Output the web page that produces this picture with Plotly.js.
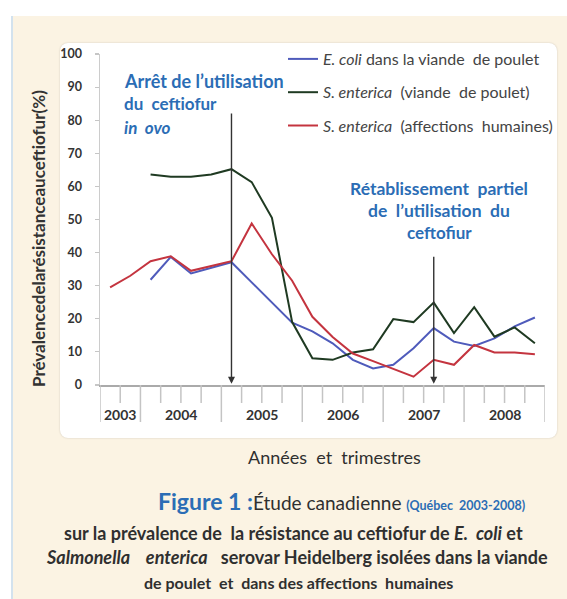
<!DOCTYPE html>
<html>
<head>
<meta charset="utf-8">
<script src="https://cdn.plot.ly/plotly-3.0.1.min.js"></script>
<style>
  body { margin:0; background:#ffffff; }
  #wrap { position:relative; width:567px; height:599px; overflow:hidden; }
  #beige { position:absolute; left:11px; top:16px; width:556px; height:583px; background:#FBF3E3; border-left:2px solid #d3e2ee; }
  #panel { position:absolute; left:60px; top:43px; width:497px; height:395px; background:#ffffff; border-radius:8px; box-shadow:0 0 2px rgba(0,0,0,0.18); }
  #plot { position:absolute; left:0; top:0; width:567px; height:599px; }
</style>
</head>
<body>
<div id="wrap">
  <div id="beige"></div>
  <div id="panel"></div>
  <div id="plot"></div>
</div>
<script>
// ---- data ----
const quarters = [
  "2003 T3","2003 T4",
  "2004 T1","2004 T2","2004 T3","2004 T4",
  "2005 T1","2005 T2","2005 T3","2005 T4",
  "2006 T1","2006 T2","2006 T3","2006 T4",
  "2007 T1","2007 T2","2007 T3","2007 T4",
  "2008 T1","2008 T2","2008 T3","2008 T4"
];
const ecoliPoulet = [null, null, 31.8, 38.7, 33.7, 35.5, 37.1, 31.0, 25.0, 18.8, 16.2, 12.6, 7.6, 5.0, 6.1, 11.1, 17.2, 13.1, 11.8, 14.1, 17.7, 20.4];
const entericaPoulet = [null, null, 63.6, 62.9, 62.9, 63.6, 65.2, 61.3, 50.5, 19.0, 8.1, 7.6, 9.8, 10.8, 19.9, 19.0, 24.9, 15.7, 23.5, 14.6, 17.4, 12.6];
const entericaHumains = [29.5, 33.0, 37.4, 38.9, 34.5, 35.9, 37.4, 48.8, 39.5, 31.5, 20.6, 14.5, 9.5, 7.2, 4.8, 2.5, 7.6, 6.1, 12.1, 9.8, 9.8, 9.3];
const seriesNames = [
  "<i>E. coli</i> dans la viande  de poulet",
  "<i>S. enterica</i>  (viande  de poulet)",
  "<i>S. enterica</i>  (affections  humaines)"
];
const seriesColors = ["#4F5BBB", "#1F3A22", "#C4343F"];
const arretQuarter = "2005 T1";
const retablissementQuarter = "2007 T3";

// ---- helpers (pixel -> paper) ----
const L = 100, R = 22, T = 54, B = 214, W = 567, H = 599;
const PW = W - L - R, PH = H - T - B;
const fx = px => (px - L) / PW;
const fy = py => (H - B - py) / PH;

const yearOf = q => q.split(" ")[0];

const traces = [ecoliPoulet, entericaPoulet, entericaHumains].map((vals, i) => ({
  type: "scatter", mode: "lines",
  x: quarters, y: vals,
  name: seriesNames[i],
  legendgroup: "g" + i,
  line: { color: seriesColors[i], width: 2 },
  connectgaps: false
}));

// tick lines below the axis (quarter boundaries; longer at year boundaries)
const shapes = [];
for (let b = 0; b <= quarters.length; b++) {
  const isYear = (b === 0 || b === quarters.length || yearOf(quarters[b]) !== yearOf(quarters[b - 1]));
  shapes.push({
    type: "line", xref: "x", yref: "paper",
    x0: b - 0.5, x1: b - 0.5, y0: 0, y1: -(isYear ? 37 : 18) / PH,
    line: { color: "#c4c4c4", width: 1.5 }
  });
}

// year labels at centre of their quarters
const years = [...new Set(quarters.map(yearOf))];
const annotations = years.map(yr => {
  const idx = quarters.map((q, i) => yearOf(q) === yr ? i : -1).filter(i => i >= 0);
  const c = (idx[0] + idx[idx.length - 1]) / 2;
  return {
    xref: "x", yref: "paper", x: c, y: fy(414), text: yr, showarrow: false,
    font: { family: "Lato, sans-serif", size: 14, color: "#333", weight: "bold" },
    xanchor: "center", yanchor: "middle"
  };
});

// arrows
const ia = quarters.indexOf(arretQuarter);
const ir = quarters.indexOf(retablissementQuarter);
annotations.push({
  xref: "x", yref: "y", axref: "x", ayref: "y",
  x: ia, y: 0.4, ax: ia, ay: 82.5, text: "", showarrow: true,
  arrowhead: 2, arrowsize: 1, arrowwidth: 1.4, arrowcolor: "#333"
});
annotations.push({
  xref: "x", yref: "y", axref: "x", ayref: "y",
  x: ir, y: 0.4, ax: ir, ay: 39.2, text: "", showarrow: true,
  arrowhead: 2, arrowsize: 1, arrowwidth: 1.4, arrowcolor: "#333"
});

const blue = "#2B6DB5";
const noteFont = s => ({ family: "Lato, sans-serif", size: s, color: blue, weight: "bold" });
const addText = (text, x, y, font, xanchor) => annotations.push({
  xref: "paper", yref: "paper", x: fx(x), y: fy(y), text, showarrow: false,
  font, xanchor: xanchor || "left", yanchor: "middle", align: xanchor === "center" ? "center" : "left"
});

addText("Arrêt de l’utilisation", 122, 81, noteFont(18));
addText("du  ceftiofur", 122, 104, noteFont(17));
addText("<i>in  ovo</i>", 122, 127, noteFont(17));

addText("Rétablissement  partiel", 439, 188, noteFont(17.5), "center");
addText("de  l’utilisation  du", 439, 210, noteFont(17.5), "center");
addText("ceftofiur", 439, 232, noteFont(17), "center");

// y-axis title
annotations.push({
  xref: "paper", yref: "paper", x: fx(38), y: fy(239), textangle: -90,
  text: "Prévalencedelarésistanceauceftiofur(%)", showarrow: false,
  font: { family: "Lato, sans-serif", size: 17, color: "#333", weight: "bold" },
  xanchor: "center", yanchor: "middle"
});

// x-axis caption and figure caption
const dark = "#2f2f2f";
addText("Années  et  trimestres", 334, 457, { family: "Lato, sans-serif", size: 18, color: dark }, "center");
addText("<span style='color:" + blue + ";font-size:23px'><b>Figure 1 :</b></span>Étude canadienne <span style='font-size:12.5px;color:" + blue + "'><b>(Québec  2003-2008)</b></span>",
  341, 501, { family: "Lato, sans-serif", size: 19, color: dark }, "center");
addText("<b>sur la prévalence de  la résistance au ceftiofur de <i>E.  coli</i> et</b>", 293, 533,
  { family: "Lato, sans-serif", size: 18, color: dark }, "center");
addText("<b><i>Salmonella    enterica</i>   serovar Heidelberg isolées dans la viande</b>", 297, 557,
  { family: "Lato, sans-serif", size: 18, color: dark }, "center");
addText("<b>de poulet  et  dans des affections  humaines</b>", 298, 582,
  { family: "Lato, sans-serif", size: 16, color: dark }, "center");

const layout = {
  width: W, height: H,
  margin: { l: L, r: R, t: T, b: B, pad: 0, autoexpand: false },
  paper_bgcolor: "rgba(0,0,0,0)",
  plot_bgcolor: "rgba(0,0,0,0)",
  font: { family: "Lato, sans-serif", color: "#333" },
  xaxis: {
    type: "category", categoryarray: quarters, categoryorder: "array",
    range: [-0.5, quarters.length - 0.5],
    showticklabels: false, ticks: "", showgrid: false, zeroline: false,
    showline: true, linecolor: "#aaaaaa", linewidth: 1.5, fixedrange: true
  },
  yaxis: {
    range: [0, 100], dtick: 10, tick0: 0,
    ticks: "outside", ticklen: 4, tickcolor: "#c6c6c6", tickwidth: 1.2,
    showline: true, linecolor: "#cccccc", linewidth: 1.5,
    showgrid: false, zeroline: false, ticklabelstandoff: 10,
    tickfont: { family: "Lato, sans-serif", size: 12.5, color: "#333", weight: "bold" },
    fixedrange: true
  },
  showlegend: true,
  legend: {
    x: fx(283), y: fy(42), xanchor: "left", yanchor: "top",
    bgcolor: "rgba(0,0,0,0)", borderwidth: 0,
    font: { family: "Lato, sans-serif", size: 16, color: "#444" },
    tracegroupgap: 9.5, itemwidth: 30
  },
  shapes, annotations
};

Plotly.newPlot("plot", traces, layout, { displayModeBar: false, staticPlot: true });
</script>
</body>
</html>
